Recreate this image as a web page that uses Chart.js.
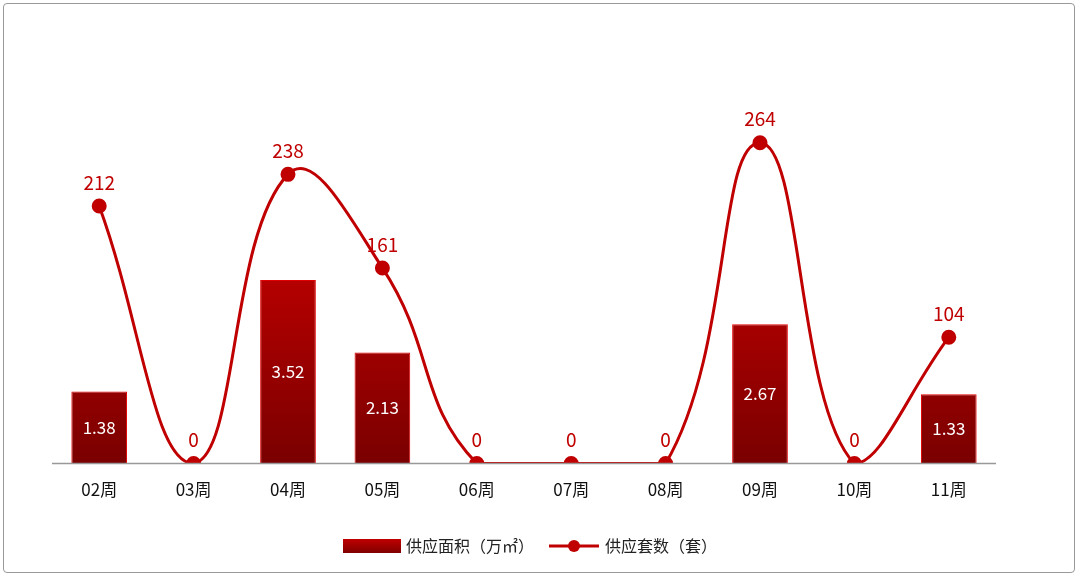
<!DOCTYPE html>
<html><head><meta charset="utf-8">
<script src="https://cdn.jsdelivr.net/npm/chart.js@4.4.0/dist/chart.umd.min.js"></script>
<style>
html,body{margin:0;padding:0;background:#fff;}
#wrap{position:absolute;left:3px;top:3px;width:1072px;height:570px;border:1px solid #999;border-radius:4px;box-sizing:border-box;}
canvas{display:block;}
</style></head><body>
<div id="wrap"><canvas id="c"></canvas></div>
<script>
const categories=['02周','03周','04周','05周','06周','07周','08周','09周','10周','11周'];
const areaValues=[1.38,0,3.52,2.13,0,0,0,2.67,0,1.33];
const unitValues=[212,0,238,161,0,0,0,264,0,104];
const legendLabels=['供应面积（万㎡）','供应套数（套）'];
const RED='#c00000';
const labelPlugin={id:'lbl',afterDatasetsDraw(chart){
  const ctx=chart.ctx;ctx.save();ctx.textAlign='center';
  const m0=chart.getDatasetMeta(0),m1=chart.getDatasetMeta(1);
  ctx.font='17px "Noto Sans CJK SC", "Noto Sans"';
  ctx.fillStyle='#fff';ctx.textBaseline='middle';
  m0.data.forEach((b,i)=>{if(areaValues[i]>0){ctx.fillText(areaValues[i].toFixed(2),b.x,(b.y+b.base)/2);}});
  ctx.fillStyle=RED;ctx.textBaseline='bottom';ctx.font='19px "Noto Sans CJK SC", "Noto Sans"';
  m1.data.forEach((p,i)=>{ctx.fillText(String(unitValues[i]),p.x,p.y-14);});
  const xa=chart.scales.x,y=chart.scales.y.getPixelForValue(0);
  ctx.strokeStyle='#999';ctx.lineWidth=1.5;ctx.beginPath();ctx.moveTo(xa.left,y);ctx.lineTo(xa.right,y);ctx.stroke();
  // legend
  const ly=542;
  const g=ctx.createLinearGradient(0,ly-7,0,ly+7);g.addColorStop(0,'#c00000');g.addColorStop(1,'#800000');
  ctx.fillStyle=g;ctx.fillRect(339,ly-7,58,14);
  ctx.textAlign='left';ctx.textBaseline='middle';ctx.fillStyle='#222';ctx.font='16px "Noto Sans CJK SC"';
  ctx.fillText(legendLabels[0],402,ly);
  ctx.strokeStyle=RED;ctx.lineWidth=3;ctx.beginPath();ctx.moveTo(545,ly);ctx.lineTo(595,ly);ctx.stroke();
  ctx.fillStyle=RED;ctx.beginPath();ctx.arc(570,ly,6,0,Math.PI*2);ctx.fill();
  ctx.fillStyle='#222';ctx.fillText(legendLabels[1],601,ly);
  ctx.restore();}};
new Chart(document.getElementById('c'),{
  data:{labels:categories,datasets:[
    {type:'bar',label:legendLabels[0],data:areaValues,yAxisID:'y',order:2,barPercentage:0.59,categoryPercentage:1,
     backgroundColor:(ctx)=>{const a=ctx.chart.chartArea;if(!a)return RED;const g=ctx.chart.ctx.createLinearGradient(0,a.top+150,0,a.bottom);g.addColorStop(0,'#d80000');g.addColorStop(1,'#7a0000');return g;},
     borderColor:'#e00000',borderWidth:1},
    {type:'line',label:legendLabels[1],data:unitValues,yAxisID:'y1',order:1,borderColor:RED,backgroundColor:RED,
     borderWidth:3,tension:0.45,pointRadius:6,pointHoverRadius:6,pointBackgroundColor:RED,pointBorderColor:RED}
  ]},
  options:{responsive:true,maintainAspectRatio:false,animation:false,
    layout:{padding:{left:48,right:78,top:16,bottom:64}},
    plugins:{tooltip:{enabled:false},legend:{display:false}},
    scales:{
      x:{grid:{display:false},border:{display:false},ticks:{color:'#111',font:{size:17,family:'"Noto Sans CJK SC"'},padding:8}},
      y:{display:false,min:0,max:8.5},
      y1:{display:false,min:0,max:365}
    }},
  plugins:[labelPlugin]
});
</script></body></html>
